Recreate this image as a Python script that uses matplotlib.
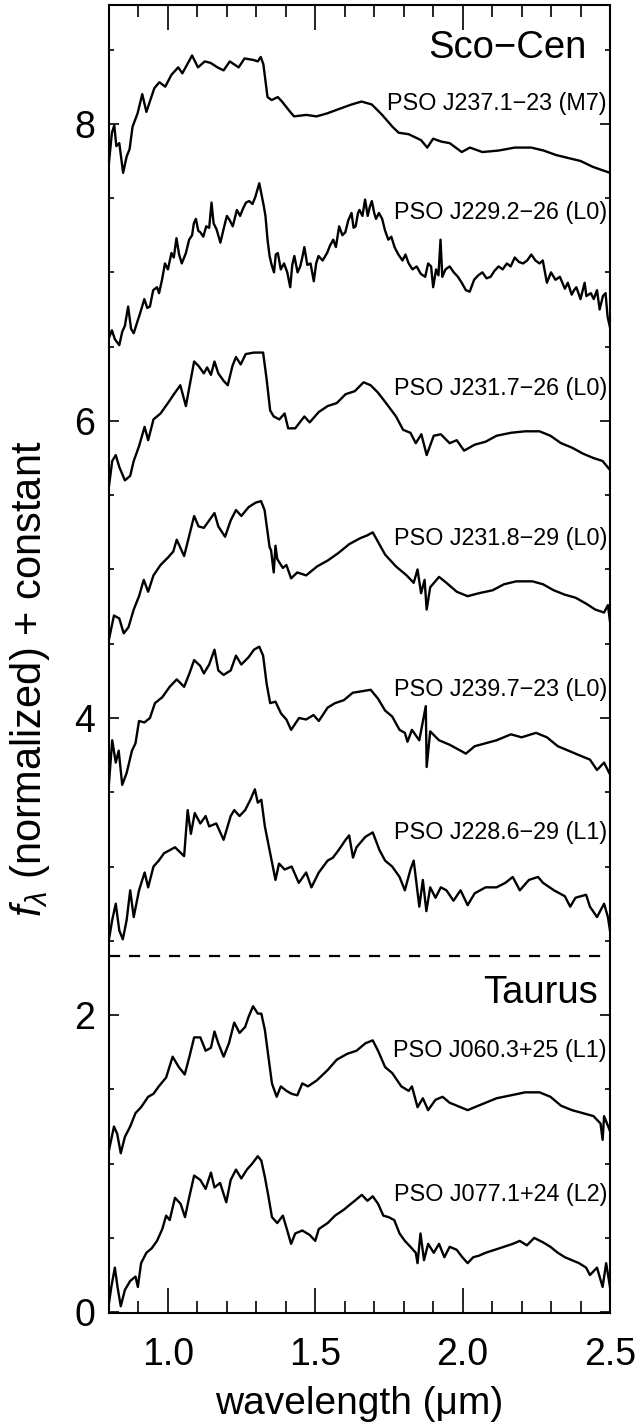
import numpy as np
import matplotlib.pyplot as plt

plt.rcParams['font.family'] = ['Liberation Sans', 'DejaVu Sans']
plt.rcParams['mathtext.fontset'] = 'custom'
plt.rcParams['mathtext.rm'] = 'Liberation Sans'
plt.rcParams['mathtext.it'] = 'Liberation Sans:italic'

# spectra: (wavelength in micron, flux + offset)
j237 = [(0.800, 7.74), (0.810, 7.94), (0.818, 7.99), (0.825, 7.85), (0.835, 7.87), (0.848, 7.67),
        (0.860, 7.78), (0.870, 7.83), (0.880, 7.98), (0.897, 8.07), (0.913, 8.20), (0.927, 8.08),
        (0.937, 8.14), (0.954, 8.24), (0.971, 8.28), (0.991, 8.25), (1.012, 8.33), (1.035, 8.38),
        (1.049, 8.34), (1.082, 8.46), (1.102, 8.38), (1.125, 8.42), (1.145, 8.41), (1.168, 8.38),
        (1.189, 8.36), (1.210, 8.42), (1.240, 8.38), (1.260, 8.44), (1.290, 8.43), (1.305, 8.42),
        (1.315, 8.45), (1.324, 8.40), (1.338, 8.18), (1.352, 8.16), (1.373, 8.18), (1.387, 8.15),
        (1.415, 8.08), (1.428, 8.05), (1.470, 8.06), (1.504, 8.05), (1.540, 8.07), (1.581, 8.10),
        (1.623, 8.13), (1.657, 8.15), (1.692, 8.13), (1.727, 8.06), (1.762, 7.98), (1.783, 7.94),
        (1.817, 7.93), (1.859, 7.89), (1.880, 7.84), (1.900, 7.90), (1.928, 7.88), (1.956, 7.87),
        (1.997, 7.81), (2.025, 7.84), (2.067, 7.81), (2.122, 7.82), (2.177, 7.84), (2.233, 7.84),
        (2.275, 7.82), (2.317, 7.79), (2.358, 7.77), (2.400, 7.75), (2.442, 7.71), (2.500, 7.67)]

j229 = [(0.800, 6.56), (0.810, 6.61), (0.820, 6.55), (0.835, 6.51), (0.845, 6.60), (0.854, 6.64),
        (0.865, 6.77), (0.875, 6.62), (0.884, 6.59), (0.895, 6.66), (0.905, 6.72), (0.920, 6.82),
        (0.930, 6.76), (0.939, 6.77), (0.950, 6.88), (0.963, 6.90), (0.970, 6.86), (0.980, 6.95),
        (0.990, 7.06), (1.000, 7.02), (1.012, 7.13), (1.020, 7.10), (1.029, 7.23), (1.038, 7.12),
        (1.047, 7.06), (1.061, 7.13), (1.072, 7.22), (1.082, 7.25), (1.088, 7.33), (1.095, 7.36),
        (1.103, 7.28), (1.110, 7.27), (1.120, 7.24), (1.130, 7.31), (1.140, 7.30), (1.148, 7.47),
        (1.155, 7.33), (1.165, 7.29), (1.178, 7.20), (1.190, 7.30), (1.200, 7.38), (1.210, 7.35),
        (1.220, 7.31), (1.234, 7.42), (1.245, 7.38), (1.255, 7.43), (1.265, 7.47), (1.276, 7.48),
        (1.287, 7.46), (1.297, 7.51), (1.310, 7.60), (1.318, 7.52), (1.325, 7.45), (1.331, 7.38),
        (1.338, 7.22), (1.345, 7.11), (1.352, 7.05), (1.360, 7.00), (1.366, 7.12), (1.373, 7.13),
        (1.383, 7.02), (1.394, 7.06), (1.405, 7.00), (1.415, 6.90), (1.422, 7.05), (1.429, 7.11),
        (1.440, 7.00), (1.449, 7.04), (1.456, 7.10), (1.463, 7.17), (1.473, 7.05), (1.484, 7.06),
        (1.495, 6.94), (1.503, 7.06), (1.511, 7.11), (1.525, 7.08), (1.540, 7.13), (1.550, 7.18),
        (1.561, 7.22), (1.570, 7.17), (1.581, 7.31), (1.592, 7.25), (1.602, 7.27), (1.612, 7.35),
        (1.623, 7.40), (1.630, 7.30), (1.637, 7.31), (1.645, 7.40), (1.650, 7.42), (1.660, 7.38),
        (1.669, 7.49), (1.678, 7.38), (1.685, 7.44), (1.692, 7.48), (1.700, 7.40), (1.706, 7.36),
        (1.716, 7.40), (1.727, 7.36), (1.737, 7.28), (1.748, 7.22), (1.758, 7.24), (1.769, 7.17),
        (1.782, 7.12), (1.796, 7.08), (1.806, 7.12), (1.817, 7.06), (1.830, 7.02), (1.844, 7.04),
        (1.858, 6.99), (1.873, 6.97), (1.883, 7.06), (1.893, 7.04), (1.900, 6.90), (1.910, 7.02),
        (1.918, 6.98), (1.925, 7.22), (1.931, 6.97), (1.942, 7.02), (1.956, 7.04), (1.970, 7.00),
        (1.984, 6.97), (1.997, 6.93), (2.011, 6.88), (2.024, 6.87), (2.039, 6.95), (2.053, 6.98),
        (2.067, 7.00), (2.081, 6.96), (2.095, 6.97), (2.108, 7.01), (2.122, 7.04), (2.136, 7.02),
        (2.150, 7.06), (2.163, 7.04), (2.177, 7.10), (2.191, 7.07), (2.205, 7.06), (2.219, 7.08),
        (2.233, 7.12), (2.247, 7.08), (2.261, 7.06), (2.272, 7.08), (2.286, 6.93), (2.300, 7.00),
        (2.315, 6.95), (2.330, 6.97), (2.347, 6.89), (2.357, 6.93), (2.370, 6.85), (2.378, 6.88),
        (2.386, 6.90), (2.400, 6.82), (2.414, 6.93), (2.420, 6.84), (2.435, 6.86), (2.445, 6.82),
        (2.456, 6.88), (2.465, 6.75), (2.476, 6.84), (2.485, 6.86), (2.492, 6.70), (2.500, 6.63)]

j2317 = [(0.800, 5.56), (0.811, 5.73), (0.823, 5.77), (0.835, 5.69), (0.854, 5.60), (0.872, 5.63),
         (0.884, 5.73), (0.902, 5.83), (0.921, 5.96), (0.933, 5.87), (0.951, 6.01), (0.975, 6.05),
         (1.000, 6.12), (1.024, 6.19), (1.042, 6.24), (1.061, 6.10), (1.073, 6.23), (1.089, 6.40),
         (1.104, 6.37), (1.122, 6.32), (1.133, 6.36), (1.146, 6.31), (1.158, 6.40), (1.171, 6.32),
         (1.189, 6.27), (1.203, 6.24), (1.219, 6.37), (1.231, 6.43), (1.247, 6.38), (1.264, 6.45),
         (1.292, 6.46), (1.323, 6.46), (1.335, 6.28), (1.347, 6.07), (1.359, 6.03), (1.378, 6.01),
         (1.396, 6.05), (1.408, 5.95), (1.432, 5.95), (1.463, 6.03), (1.481, 5.99), (1.512, 6.06),
         (1.542, 6.10), (1.573, 6.12), (1.603, 6.18), (1.634, 6.20), (1.664, 6.26), (1.688, 6.24),
         (1.713, 6.19), (1.744, 6.11), (1.774, 6.03), (1.798, 5.94), (1.823, 5.92), (1.841, 5.85),
         (1.860, 5.91), (1.878, 5.77), (1.902, 5.90), (1.926, 5.91), (1.956, 5.85), (1.980, 5.87),
         (2.005, 5.80), (2.041, 5.84), (2.078, 5.86), (2.115, 5.90), (2.164, 5.92), (2.212, 5.93),
         (2.261, 5.93), (2.298, 5.90), (2.334, 5.85), (2.371, 5.82), (2.408, 5.78), (2.444, 5.75),
         (2.475, 5.73), (2.500, 5.67)]

j2318 = [(0.800, 4.53), (0.817, 4.69), (0.835, 4.67), (0.850, 4.57), (0.866, 4.61), (0.884, 4.73),
         (0.902, 4.82), (0.918, 4.93), (0.933, 4.85), (0.951, 4.96), (0.975, 5.03), (1.000, 5.08),
         (1.018, 5.12), (1.030, 5.20), (1.055, 5.09), (1.089, 5.36), (1.104, 5.29), (1.122, 5.28),
         (1.140, 5.33), (1.158, 5.38), (1.171, 5.29), (1.194, 5.22), (1.213, 5.33), (1.231, 5.40),
         (1.249, 5.36), (1.274, 5.42), (1.298, 5.45), (1.316, 5.46), (1.328, 5.40), (1.345, 5.15),
         (1.350, 5.13), (1.359, 4.98), (1.365, 5.16), (1.371, 5.07), (1.390, 5.01), (1.402, 5.03),
         (1.418, 4.94), (1.439, 4.98), (1.469, 4.96), (1.506, 5.02), (1.542, 5.06), (1.578, 5.11),
         (1.615, 5.17), (1.652, 5.21), (1.677, 5.23), (1.695, 5.25), (1.737, 5.10), (1.774, 5.02),
         (1.810, 4.96), (1.834, 4.91), (1.847, 5.00), (1.859, 4.84), (1.871, 4.93), (1.878, 4.73),
         (1.890, 4.88), (1.920, 4.95), (1.945, 4.91), (1.980, 4.85), (2.017, 4.82), (2.055, 4.84),
         (2.102, 4.86), (2.140, 4.90), (2.182, 4.92), (2.237, 4.92), (2.273, 4.90), (2.309, 4.86),
         (2.347, 4.83), (2.383, 4.81), (2.419, 4.77), (2.450, 4.73), (2.480, 4.71), (2.493, 4.76),
         (2.500, 4.65)]

j2397 = [(0.800, 3.56), (0.811, 3.85), (0.823, 3.70), (0.833, 3.78), (0.845, 3.55), (0.860, 3.63),
         (0.878, 3.78), (0.890, 3.83), (0.902, 3.98), (0.920, 3.97), (0.939, 4.00), (0.956, 4.10),
         (0.981, 4.14), (1.006, 4.21), (1.030, 4.26), (1.055, 4.21), (1.073, 4.30), (1.089, 4.39),
         (1.110, 4.35), (1.122, 4.30), (1.140, 4.36), (1.158, 4.46), (1.171, 4.32), (1.189, 4.29),
         (1.213, 4.32), (1.231, 4.42), (1.249, 4.36), (1.274, 4.41), (1.292, 4.46), (1.310, 4.48),
         (1.323, 4.42), (1.335, 4.23), (1.347, 4.10), (1.365, 4.11), (1.384, 4.03), (1.402, 3.99),
         (1.418, 3.92), (1.445, 4.00), (1.469, 3.99), (1.494, 4.02), (1.512, 3.98), (1.542, 4.07),
         (1.567, 4.10), (1.597, 4.12), (1.627, 4.17), (1.658, 4.18), (1.688, 4.19), (1.713, 4.13),
         (1.737, 4.05), (1.761, 4.01), (1.786, 3.92), (1.804, 3.90), (1.813, 3.84), (1.828, 3.92),
         (1.853, 3.85), (1.875, 4.08), (1.878, 3.67), (1.890, 3.91), (1.920, 3.85), (1.956, 3.82),
         (1.993, 3.78), (2.011, 3.76), (2.041, 3.81), (2.078, 3.83), (2.115, 3.85), (2.164, 3.89),
         (2.200, 3.87), (2.249, 3.90), (2.286, 3.87), (2.323, 3.81), (2.359, 3.78), (2.395, 3.75),
         (2.432, 3.72), (2.456, 3.65), (2.480, 3.70), (2.500, 3.62)]

j228 = [(0.800, 2.51), (0.811, 2.64), (0.823, 2.75), (0.835, 2.57), (0.847, 2.51), (0.860, 2.64),
        (0.872, 2.84), (0.884, 2.66), (0.902, 2.84), (0.921, 2.96), (0.933, 2.86), (0.951, 3.00),
        (0.969, 3.04), (0.987, 3.09), (1.006, 3.11), (1.024, 3.13), (1.055, 3.07), (1.067, 3.38),
        (1.078, 3.22), (1.091, 3.36), (1.110, 3.29), (1.128, 3.34), (1.140, 3.27), (1.164, 3.29),
        (1.189, 3.18), (1.213, 3.34), (1.225, 3.38), (1.243, 3.34), (1.262, 3.38), (1.280, 3.45),
        (1.295, 3.52), (1.305, 3.43), (1.317, 3.45), (1.329, 3.27), (1.347, 3.09), (1.365, 2.91),
        (1.377, 3.02), (1.396, 2.98), (1.420, 3.00), (1.444, 2.89), (1.469, 2.96), (1.487, 2.86),
        (1.512, 2.96), (1.542, 3.04), (1.560, 3.06), (1.579, 3.11), (1.603, 3.18), (1.615, 3.21),
        (1.628, 3.06), (1.640, 3.13), (1.670, 3.20), (1.695, 3.23), (1.718, 3.11), (1.737, 3.04),
        (1.761, 3.00), (1.786, 2.93), (1.804, 2.84), (1.823, 2.98), (1.834, 3.04), (1.853, 2.73),
        (1.865, 2.91), (1.877, 2.70), (1.890, 2.86), (1.908, 2.79), (1.926, 2.86), (1.945, 2.84),
        (1.969, 2.77), (1.993, 2.84), (2.017, 2.74), (2.041, 2.82), (2.078, 2.86), (2.115, 2.86),
        (2.145, 2.89), (2.170, 2.93), (2.194, 2.84), (2.225, 2.91), (2.256, 2.93), (2.273, 2.89),
        (2.310, 2.84), (2.347, 2.80), (2.365, 2.73), (2.383, 2.79), (2.419, 2.81), (2.432, 2.73),
        (2.456, 2.66), (2.480, 2.75), (2.493, 2.66), (2.500, 2.57)]

j060 = [(0.800, 1.09), (0.817, 1.25), (0.828, 1.20), (0.840, 1.07), (0.854, 1.18), (0.872, 1.25),
        (0.890, 1.34), (0.909, 1.38), (0.933, 1.45), (0.951, 1.47), (0.969, 1.52), (0.994, 1.58),
        (1.016, 1.72), (1.037, 1.65), (1.057, 1.60), (1.073, 1.72), (1.089, 1.85), (1.110, 1.85),
        (1.128, 1.76), (1.146, 1.78), (1.158, 1.89), (1.171, 1.81), (1.189, 1.72), (1.207, 1.81),
        (1.225, 1.95), (1.243, 1.88), (1.262, 1.92), (1.274, 1.99), (1.289, 2.06), (1.305, 2.01),
        (1.317, 2.01), (1.329, 1.90), (1.341, 1.72), (1.353, 1.54), (1.369, 1.45), (1.383, 1.52),
        (1.402, 1.49), (1.420, 1.47), (1.439, 1.46), (1.456, 1.54), (1.475, 1.52), (1.505, 1.56),
        (1.542, 1.63), (1.573, 1.70), (1.609, 1.74), (1.640, 1.76), (1.670, 1.81), (1.695, 1.83),
        (1.713, 1.76), (1.737, 1.65), (1.761, 1.61), (1.792, 1.52), (1.817, 1.49), (1.828, 1.52),
        (1.847, 1.38), (1.865, 1.44), (1.883, 1.36), (1.908, 1.43), (1.932, 1.45), (1.956, 1.41),
        (1.993, 1.38), (2.017, 1.36), (2.041, 1.38), (2.078, 1.41), (2.115, 1.44), (2.164, 1.46),
        (2.212, 1.48), (2.261, 1.48), (2.298, 1.45), (2.334, 1.39), (2.371, 1.36), (2.408, 1.34),
        (2.444, 1.32), (2.468, 1.27), (2.475, 1.16), (2.480, 1.32), (2.500, 1.22)]

j077 = [(0.800, 0.06), (0.808, 0.17), (0.820, 0.30), (0.829, 0.17), (0.840, 0.04), (0.854, 0.15),
        (0.872, 0.21), (0.890, 0.24), (0.898, 0.17), (0.909, 0.33), (0.927, 0.40), (0.945, 0.43),
        (0.963, 0.48), (0.981, 0.56), (0.994, 0.65), (1.006, 0.62), (1.024, 0.77), (1.043, 0.73),
        (1.058, 0.64), (1.073, 0.78), (1.089, 0.92), (1.110, 0.89), (1.128, 0.83), (1.146, 0.94),
        (1.158, 0.84), (1.177, 0.87), (1.198, 0.74), (1.213, 0.89), (1.231, 0.96), (1.249, 0.90),
        (1.268, 0.96), (1.286, 1.00), (1.305, 1.05), (1.317, 1.02), (1.329, 0.91), (1.341, 0.78),
        (1.353, 0.64), (1.371, 0.60), (1.390, 0.65), (1.402, 0.57), (1.418, 0.46), (1.432, 0.53),
        (1.456, 0.55), (1.481, 0.52), (1.500, 0.48), (1.512, 0.56), (1.542, 0.60), (1.567, 0.65),
        (1.597, 0.69), (1.615, 0.72), (1.634, 0.75), (1.658, 0.79), (1.677, 0.75), (1.695, 0.78),
        (1.713, 0.73), (1.731, 0.65), (1.749, 0.64), (1.768, 0.62), (1.786, 0.53), (1.804, 0.48),
        (1.823, 0.44), (1.841, 0.40), (1.847, 0.33), (1.857, 0.53), (1.869, 0.35), (1.883, 0.46),
        (1.902, 0.40), (1.920, 0.46), (1.938, 0.37), (1.956, 0.44), (1.980, 0.42), (1.999, 0.37),
        (2.017, 0.33), (2.036, 0.37), (2.055, 0.38), (2.078, 0.40), (2.109, 0.42), (2.140, 0.44),
        (2.170, 0.46), (2.194, 0.48), (2.218, 0.45), (2.243, 0.50), (2.273, 0.47), (2.298, 0.44),
        (2.323, 0.40), (2.347, 0.37), (2.371, 0.35), (2.395, 0.33), (2.419, 0.30), (2.432, 0.25),
        (2.456, 0.30), (2.475, 0.17), (2.487, 0.33), (2.500, 0.17)]

spectra = [j237, j229, j2317, j2318, j2397, j228, j060, j077]
names = ["PSO J237.1\u221223 (M7)", "PSO J229.2\u221226 (L0)", "PSO J231.7\u221226 (L0)",
         "PSO J231.8\u221229 (L0)", "PSO J239.7\u221223 (L0)", "PSO J228.6\u221229 (L1)",
         "PSO J060.3+25 (L1)", "PSO J077.1+24 (L2)"]
label_y = [8.14, 7.40, 6.22, 5.21, 4.19, 3.23, 1.76, 0.79]
divider = 2.4

fig = plt.figure(figsize=(6.41, 14.22), dpi=100)
ax = fig.add_axes([0.170, 0.0767, 0.7816, 0.9198])

for sp in spectra:
    sp = np.array(sp)
    ax.plot(sp[:, 0], sp[:, 1], color='black', lw=1.7)

for name, yy in zip(names, label_y):
    ax.text(2.49, yy, name, ha='right', va='center', fontsize=16.8)

ax.text(2.42, 8.51, "Sco\u2212Cen", ha='right', va='center', fontsize=27.5)
ax.text(2.46, 2.15, "Taurus", ha='right', va='center', fontsize=27.5)
ax.axhline(divider, color='black', lw=1.6, ls=(0, (5, 4)))

ax.set_xlim(0.8, 2.5)
ax.set_ylim(-0.005, 8.8)
ax.set_xticks([1.0, 1.5, 2.0, 2.5])
ax.set_xticklabels(["1.0", "1.5", "2.0", "2.5"])
ax.set_xticks(np.arange(0.9, 2.45, 0.1), minor=True)
ax.set_yticks([0, 2, 4, 6, 8])
ax.set_yticks(np.arange(0.5, 8.8, 0.5), minor=True)
ax.tick_params(axis='x', which='major', direction='in', length=18, width=1.2,
               top=True, labelsize=27, pad=17)
ax.tick_params(axis='x', which='minor', direction='in', length=8.5, width=1.2, top=True)
ax.tick_params(axis='y', which='major', direction='in', length=7, width=1.2,
               right=True, labelsize=27, pad=10)
ax.tick_params(axis='y', which='minor', direction='in', length=3.5, width=1.2, right=True)
for s in ax.spines.values():
    s.set_linewidth(1.5)

ax.set_xlabel("wavelength (\u03bcm)", fontsize=28, labelpad=10)
ax.set_ylabel(r"$f_\lambda$ (normalized) + constant", fontsize=30)
ax.yaxis.set_label_coords(-0.114, 0.485)

fig.savefig("out.png", dpi=100)
